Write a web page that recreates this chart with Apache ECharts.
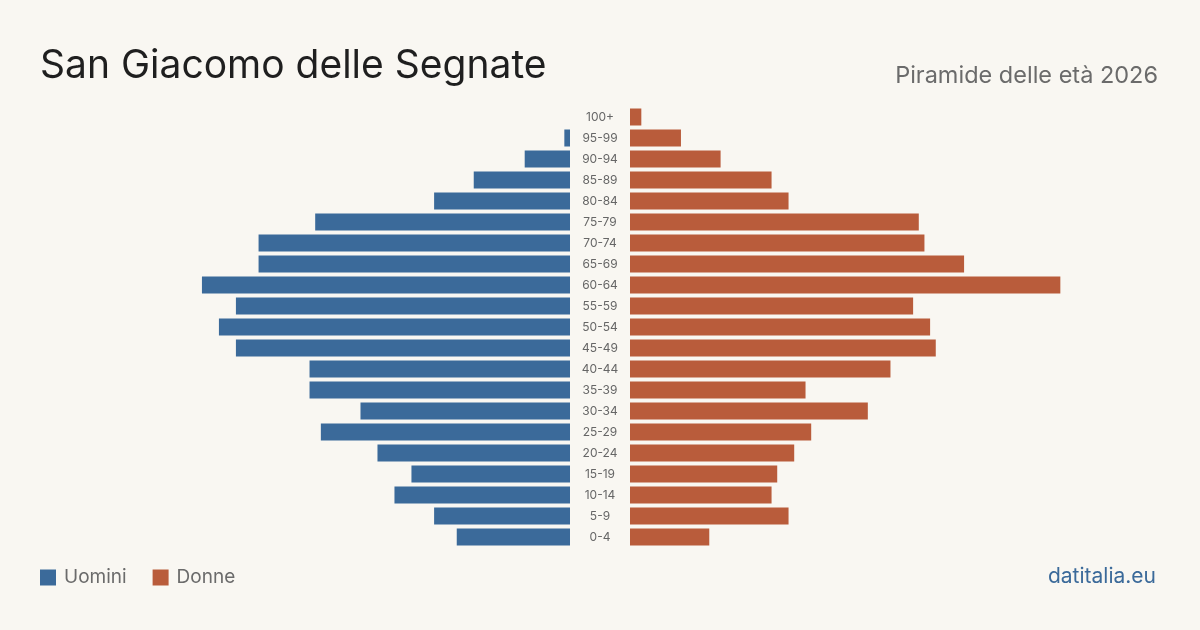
<!DOCTYPE html>
<html>
<head>
<meta charset="utf-8">
<script src="https://cdn.jsdelivr.net/npm/echarts@6/dist/echarts.min.js"></script>
<style>
html,body{margin:0;padding:0;background:#f9f7f2;}
#chart{width:1200px;height:630px;}
</style>
</head>
<body>
<div id="chart"></div>
<script>
// classi di età, dalla più giovane alla più anziana
var ageClasses = ['0-4','5-9','10-14','15-19','20-24','25-29','30-34','35-39','40-44','45-49',
    '50-54','55-59','60-64','65-69','70-74','75-79','80-84','85-89','90-94','95-99','100+'];
var uomini = [20,24,31,28,34,44,37,46,46,59,62,59,65,55,55,45,24,17,8,1,0];
var donne  = [14,28,25,26,29,32,42,31,46,54,53,50,76,59,52,51,28,25,16,9,2];

var blu = '#3b6a9a';
var arancio = '#b95c3b';
var maxVal = 93.6;

var chart = echarts.init(document.getElementById('chart'));

var option = {
    backgroundColor: '#f9f7f2',
    textStyle: {fontFamily: 'Inter'},
    title: [
        {
            text: 'San Giacomo delle Segnate',
            left: 40, top: 47, padding: 0,
            textStyle: {fontFamily: 'Inter', fontSize: 39, fontWeight: 'normal', color: '#1f1f1f'}
        },
        {
            text: 'Piramide delle età 2026',
            right: 42, top: 64, padding: 0,
            textStyle: {fontFamily: 'Inter', fontSize: 23.5, fontWeight: 'normal', color: '#6b6b6b'}
        },
        {
            text: 'datitalia.eu',
            right: 44, top: 566, padding: 0,
            textStyle: {fontFamily: 'Inter', fontSize: 21, fontWeight: 'normal', color: '#3b6a9a'}
        }
    ],
    legend: {
        left: 40, top: 568, padding: 0,
        itemWidth: 16, itemHeight: 16, itemGap: 26,
        icon: 'rect',
        textStyle: {fontFamily: 'Inter', fontSize: 19, color: '#6b6b6b', padding: [0,0,0,3]},
        data: ['Uomini','Donne']
    },
    grid: [
        {left: 40, width: 530, top: 106.5, height: 441},
        {left: 630, width: 530, top: 106.5, height: 441}
    ],
    xAxis: [
        {gridIndex: 0, type: 'value', min: 0, max: maxVal, inverse: true, show: false},
        {gridIndex: 1, type: 'value', min: 0, max: maxVal, show: false}
    ],
    yAxis: [
        {gridIndex: 0, type: 'category', data: ageClasses, position: 'right',
            axisLine: {show: false}, axisTick: {show: false}, axisLabel: {show: false}},
        {gridIndex: 1, type: 'category', data: ageClasses, position: 'left',
            axisLine: {show: false}, axisTick: {show: false},
            axisLabel: {margin: 30, align: 'center', fontFamily: 'Inter', fontSize: 12, color: '#666'}}
    ],
    series: [
        {
            name: 'Uomini', type: 'bar', xAxisIndex: 0, yAxisIndex: 0,
            data: uomini, barWidth: 17, itemStyle: {color: blu}, silent: true
        },
        {
            name: 'Donne', type: 'bar', xAxisIndex: 1, yAxisIndex: 1,
            data: donne, barWidth: 17, itemStyle: {color: arancio}, silent: true
        }
    ]
};

chart.setOption(option);
</script>
</body>
</html>
